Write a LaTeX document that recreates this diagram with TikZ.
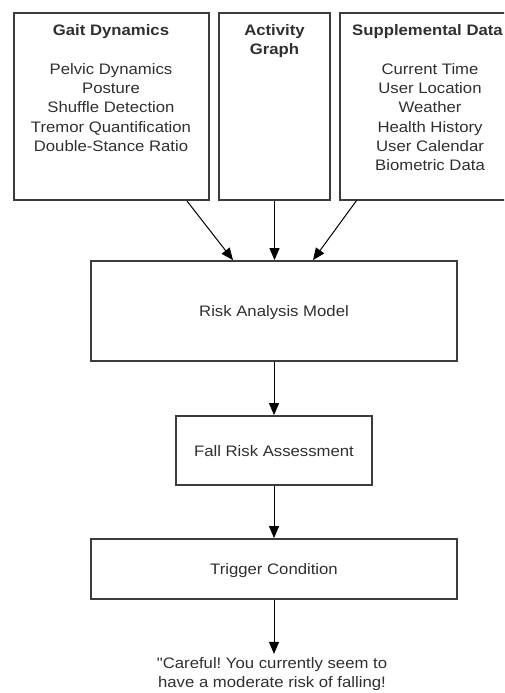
\documentclass[tikz,border=0pt]{standalone}
\usepackage{fontspec}
\setmainfont{Liberation Sans}[FakeStretch=1.1]
\newfontfamily\rawfont{Liberation Sans}[FakeStretch=1.1]
\usetikzlibrary{arrows.meta,calc}

\definecolor{boxline}{HTML}{3C3C3C}
\definecolor{ink}{HTML}{303030}

\tikzset{
  every node/.style={text=ink, font=\fontsize{15.2}{19.3}\selectfont},
  panel/.style={draw=boxline, line width=1.8pt, fill=none, inner sep=0pt},
  openpanel/.style={draw=boxline, line width=1.8pt},
  stage/.style={panel, text height=11pt, text depth=0pt},
  heading/.style={anchor=north, inner sep=0pt, align=center,
    font=\fontsize{15.2}{19.3}\selectfont\bfseries},
  listing/.style={anchor=north, inner sep=0pt, align=center},
  flow/.style={draw=black, line width=1pt,
    -{Triangle[length=12pt,width=10pt]}}
}

\begin{document}
\frenchspacing
\begin{tikzpicture}[x=1pt, y=-1pt]
  % page frame; everything outside it is cut away
  \path[use as bounding box] (0,0) rectangle (504,693);
  \clip (0,0) rectangle (504,693);
  \fill[white] (0,0) rectangle (504,693);

  % input panels (the right one runs off the page, so it has no right side)
  \node[panel, minimum width=195pt, minimum height=187pt] (gait) at (111.5,106.5) {};
  \node[panel, minimum width=111pt, minimum height=187pt] (activity) at (274.5,106.5) {};
  \node[inner sep=0pt, minimum width=180pt, minimum height=187pt] (supp) at (430,106.5) {};
  \draw[openpanel] (supp.north east) -- (supp.north west) -- (supp.south west) -- (supp.south east);

  \node[heading] (gaithead) at (111,24) {Gait Dynamics};
  \node[listing] (gaitlist) at (111,63) {Pelvic Dynamics\\Posture\\Shuffle Detection\\Tremor Quantification\\Double-Stance Ratio};

  \node[heading] (acthead) at (274.5,24) {Activity\\Graph};

  \node[heading] (supphead) at (427.5,24) {Supplemental Data};
  \node[listing] (supplist) at (430,63) {Current Time\\User Location\\Weather\\Health History\\User Calendar\\Biometric Data};

  % processing chain
  \node[stage, minimum width=366pt, minimum height=100pt] (risk) at (274,311) {Risk Analysis Model};
  \node[stage, minimum width=196pt, minimum height=69pt] (fall) at (274,450.5) {Fall Risk Assessment};
  \node[stage, minimum width=366pt, minimum height=60pt] (trigger) at (274,569) {Trigger Condition};

  \node[listing] (message) at (272,657) {{\rawfont\char"22}Careful! You currently seem to\\have a moderate risk of falling!};

  % connector end points
  \coordinate (gaitout) at ($(gait.south east)+(-23,0)$);
  \coordinate (suppout) at ($(supp.south west)+(17,0)$);
  \coordinate (riskinL) at ($(risk.north)+(-41,0)$);
  \coordinate (riskinR) at ($(risk.north)+(39,0)$);
  \coordinate (alert) at ($(trigger.south)+(0,54)$);

  \draw[flow] (gaitout) -- (riskinL);
  \draw[flow] (activity.south) -- (activity.south |- risk.north);
  \draw[flow] (suppout) -- (riskinR);
  \draw[flow] (risk.south) -- (fall.north);
  \draw[flow] (fall.south) -- (trigger.north);
  \draw[flow] (trigger.south) -- (alert);
\end{tikzpicture}
\end{document}
